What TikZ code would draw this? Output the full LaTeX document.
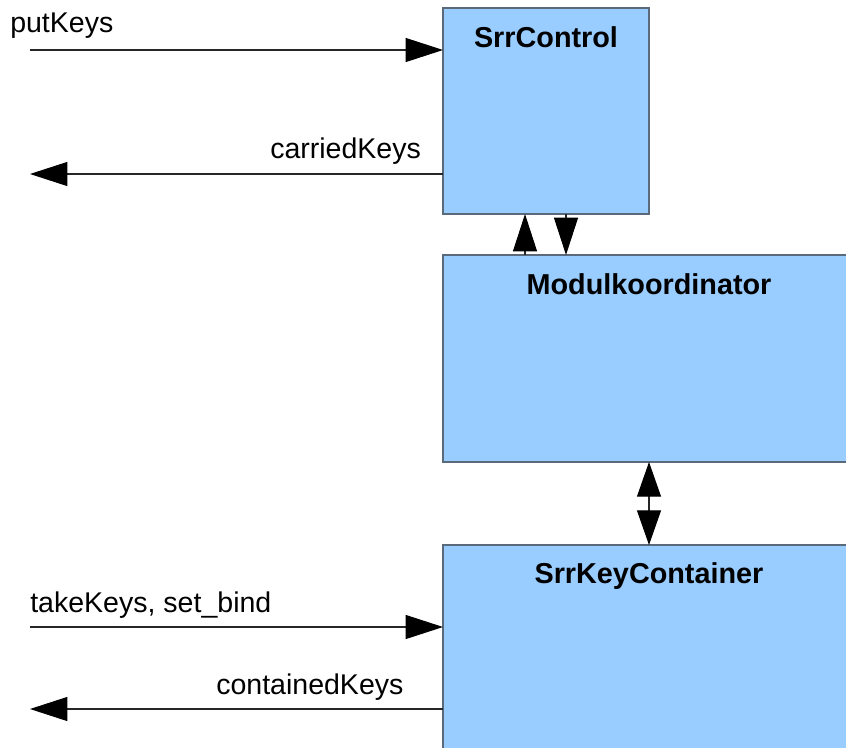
\documentclass[tikz,border=0pt]{standalone}
\usepackage{fontspec}
\setmainfont{Liberation Sans}
\usetikzlibrary{arrows.meta}
\definecolor{boxfill}{HTML}{99CCFF}
\definecolor{boxline}{HTML}{5A6A7A}
\begin{document}
\begin{tikzpicture}[x=0.75pt,y=-0.75pt,
  blk/.style={draw=boxline,fill=boxfill,line width=0.9pt,inner sep=0,outer sep=0,rectangle},
  conn/.style={draw=black!85,line width=0.8pt,-{Triangle[length=28pt,width=18pt,color=black]}},
  dconn/.style={draw=black!85,line width=0.8pt,{Triangle[length=26pt,width=18pt,color=black]}-{Triangle[length=26pt,width=18pt,color=black]}},
  lbl/.style={font=\fontsize{21.4}{24}\selectfont,anchor=base west,inner sep=0},
  ttl/.style={font=\fontsize{21.6}{24}\selectfont\bfseries,anchor=base,inner sep=0}]
\useasboundingbox (0,0) rectangle (846,747);
\clip (0,0) rectangle (846,747);
% boxes
\node[blk,minimum width=154.5pt,minimum height=154.5pt] (ctrl) at (546,111) {};
\node[blk,minimum width=342.75pt,minimum height=155.25pt] (modul) at (671.5,358.5) {};
\node[blk,minimum width=342.75pt,minimum height=191.25pt] (cont) at (671.5,672.5) {};
\node[ttl] (tC) at (546,47) {SrrControl};
\node[ttl] (tM) at (649,294) {Modulkoordinator};
\node[ttl] (tK) at (649,583) {SrrKeyContainer};
% free connector ends
\coordinate (pkS) at (30,50);
\coordinate (ckE) at (30,174);
\coordinate (tkS) at (30,627);
\coordinate (cnE) at (30,709);
\coordinate (upX) at (525,0);
\coordinate (dnX) at (566,0);
\coordinate (dbX) at (649,0);
\draw[conn] (pkS) -- (pkS -| ctrl.west);
\draw[conn] (ckE -| ctrl.west) -- (ckE);
\draw[conn] (tkS) -- (tkS -| cont.west);
\draw[conn] (cnE -| cont.west) -- (cnE);
\draw[conn] (upX |- modul.north) -- (upX |- ctrl.south);
\draw[conn] (dnX |- ctrl.south) -- (dnX |- modul.north);
\draw[dconn] (dbX |- modul.south) -- (dbX |- cont.north);
% labels
\node[lbl] (lp) at (10,32) {putKeys};
\node[lbl] (lc) at (270,158) {carriedKeys};
\node[lbl] (lt) at (30,612) {takeKeys, set\_bind};
\node[lbl] (ln) at (216,694) {containedKeys};
\end{tikzpicture}
\end{document}
